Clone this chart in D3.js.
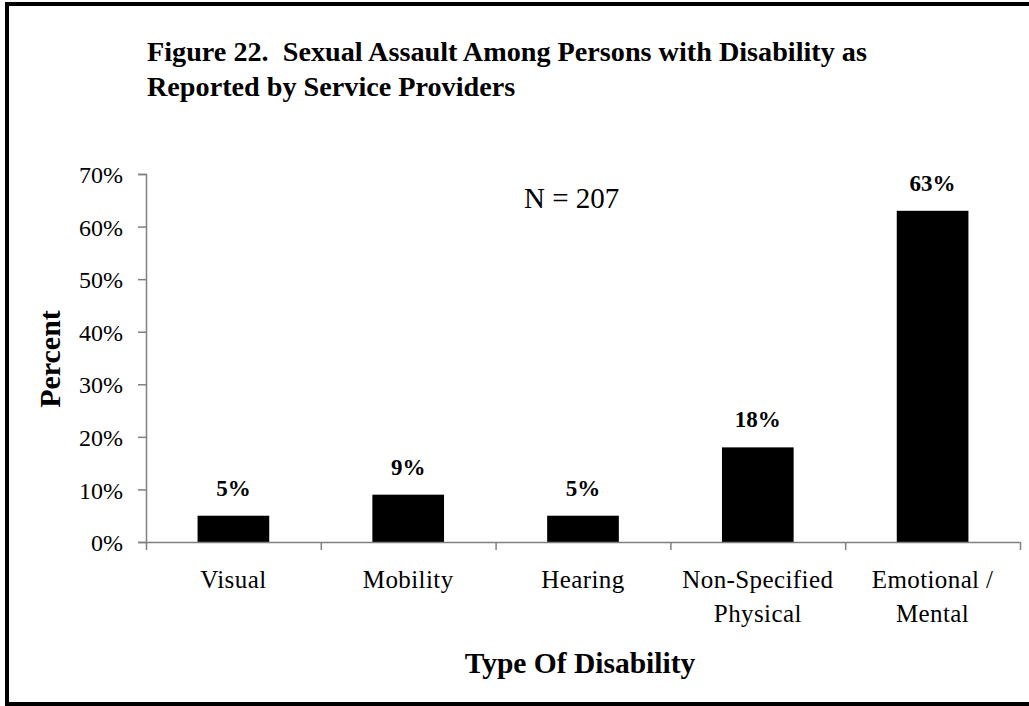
<!DOCTYPE html>
<html>
<head>
<meta charset="utf-8">
<script src="https://cdn.jsdelivr.net/npm/d3@7"></script>
<style>
  html, body { margin: 0; padding: 0; background: #fff; }
  svg { display: block; }
  text { font-family: "Liberation Serif", "Times New Roman", serif; fill: #000; white-space: pre; }
</style>
</head>
<body>
<svg id="chart" width="1029" height="706"></svg>
<script>
const titleLines = ["Figure 22.  Sexual Assault Among Persons with Disability as", "Reported by Service Providers"];
const categories = [["Visual"], ["Mobility"], ["Hearing"], ["Non-Specified", "Physical"], ["Emotional /", "Mental"]];
const values = [0.05, 0.09, 0.05, 0.18, 0.63];
const valueLabels = ["5%", "9%", "5%", "18%", "63%"];
const yTicks = [0, 0.1, 0.2, 0.3, 0.4, 0.5, 0.6, 0.7];
const yTitle = "Percent";
const xTitle = "Type Of Disability";
const note = "N = 207";

(function () {
const svg = d3.select("#chart");
const plotLeft = 146, plotRight = 1020, plotTop = 174, plotBottom = 542;

// frame
svg.append("rect").attr("x", 7).attr("y", 4).attr("width", 1040).attr("height", 700)
  .attr("fill", "none").attr("stroke", "#000").attr("stroke-width", 4);

// title
svg.append("g").selectAll("text").data(titleLines).join("text")
  .attr("x", 147).attr("y", (d, i) => 61 + i * 35)
  .attr("font-size", 28.2).attr("font-weight", "bold").attr("xml:space", "preserve").text(d => d);

const keys = categories.map((c, i) => i);
const x = d3.scaleBand().domain(keys).range([plotLeft, plotRight]).paddingInner(0.59).paddingOuter(0.295);
const y = d3.scaleLinear().domain([0, 0.7]).range([plotBottom, plotTop]);

// y axis
const yAxis = svg.append("g").attr("transform", `translate(${plotLeft},0)`)
  .call(d3.axisLeft(y).tickValues(yTicks).tickFormat(d3.format(".0%")).tickSize(8).tickPadding(15));
yAxis.select(".domain").attr("stroke", "#808080").attr("stroke-width", 1.5);
yAxis.selectAll(".tick line").attr("stroke", "#808080").attr("stroke-width", 1.5);
yAxis.selectAll(".tick text").attr("font-family", "Liberation Serif").attr("font-size", 24).attr("fill", "#000").attr("dy", "0.36em");

// bars
svg.append("g").selectAll("rect").data(values).join("rect")
  .attr("x", (d, i) => x(i)).attr("width", x.bandwidth())
  .attr("y", d => y(d)).attr("height", d => y(0) - y(d)).attr("fill", "#000");

// x axis line and boundary ticks
const step = x.step();
const boundaries = d3.range(categories.length + 1).map(i => plotLeft + i * step);
const xb = d3.scaleLinear().domain([plotLeft, plotRight]).range([plotLeft, plotRight]);
const xAxis = svg.append("g").attr("transform", `translate(0,${plotBottom})`)
  .call(d3.axisBottom(xb).tickValues(boundaries).tickSize(8).tickSizeOuter(0).tickFormat(""));
xAxis.select(".domain").attr("stroke", "#808080").attr("stroke-width", 1.5);
xAxis.selectAll(".tick line").attr("stroke", "#808080").attr("stroke-width", 1.5);

// category labels
const cat = svg.append("g");
categories.forEach((lines, i) => {
  const cx = x(i) + x.bandwidth() / 2;
  const t = cat.append("text").attr("text-anchor", "middle")
    .attr("x", cx).attr("y", 588).attr("font-size", 25).attr("letter-spacing", 0.4);
  lines.forEach((l, j) => t.append("tspan").attr("x", cx).attr("dy", j === 0 ? 0 : 34).text(l));
});

// value labels
svg.append("g").selectAll("text").data(values).join("text")
  .attr("text-anchor", "middle").attr("x", (d, i) => x(i) + x.bandwidth() / 2)
  .attr("y", d => y(d) - 20).attr("font-size", 23).attr("font-weight", "bold")
  .text((d, i) => valueLabels[i]);

// N note
svg.append("text").attr("x", 524).attr("y", 208).attr("font-size", 29).text(note);

// axis titles
svg.append("text").attr("transform", "translate(60,359) rotate(-90)").attr("text-anchor", "middle")
  .attr("font-size", 30).attr("font-weight", "bold").text(yTitle);
svg.append("text").attr("x", 580).attr("y", 673).attr("text-anchor", "middle")
  .attr("font-size", 29.5).attr("font-weight", "bold").text(xTitle);
})();
</script>
</body>
</html>
